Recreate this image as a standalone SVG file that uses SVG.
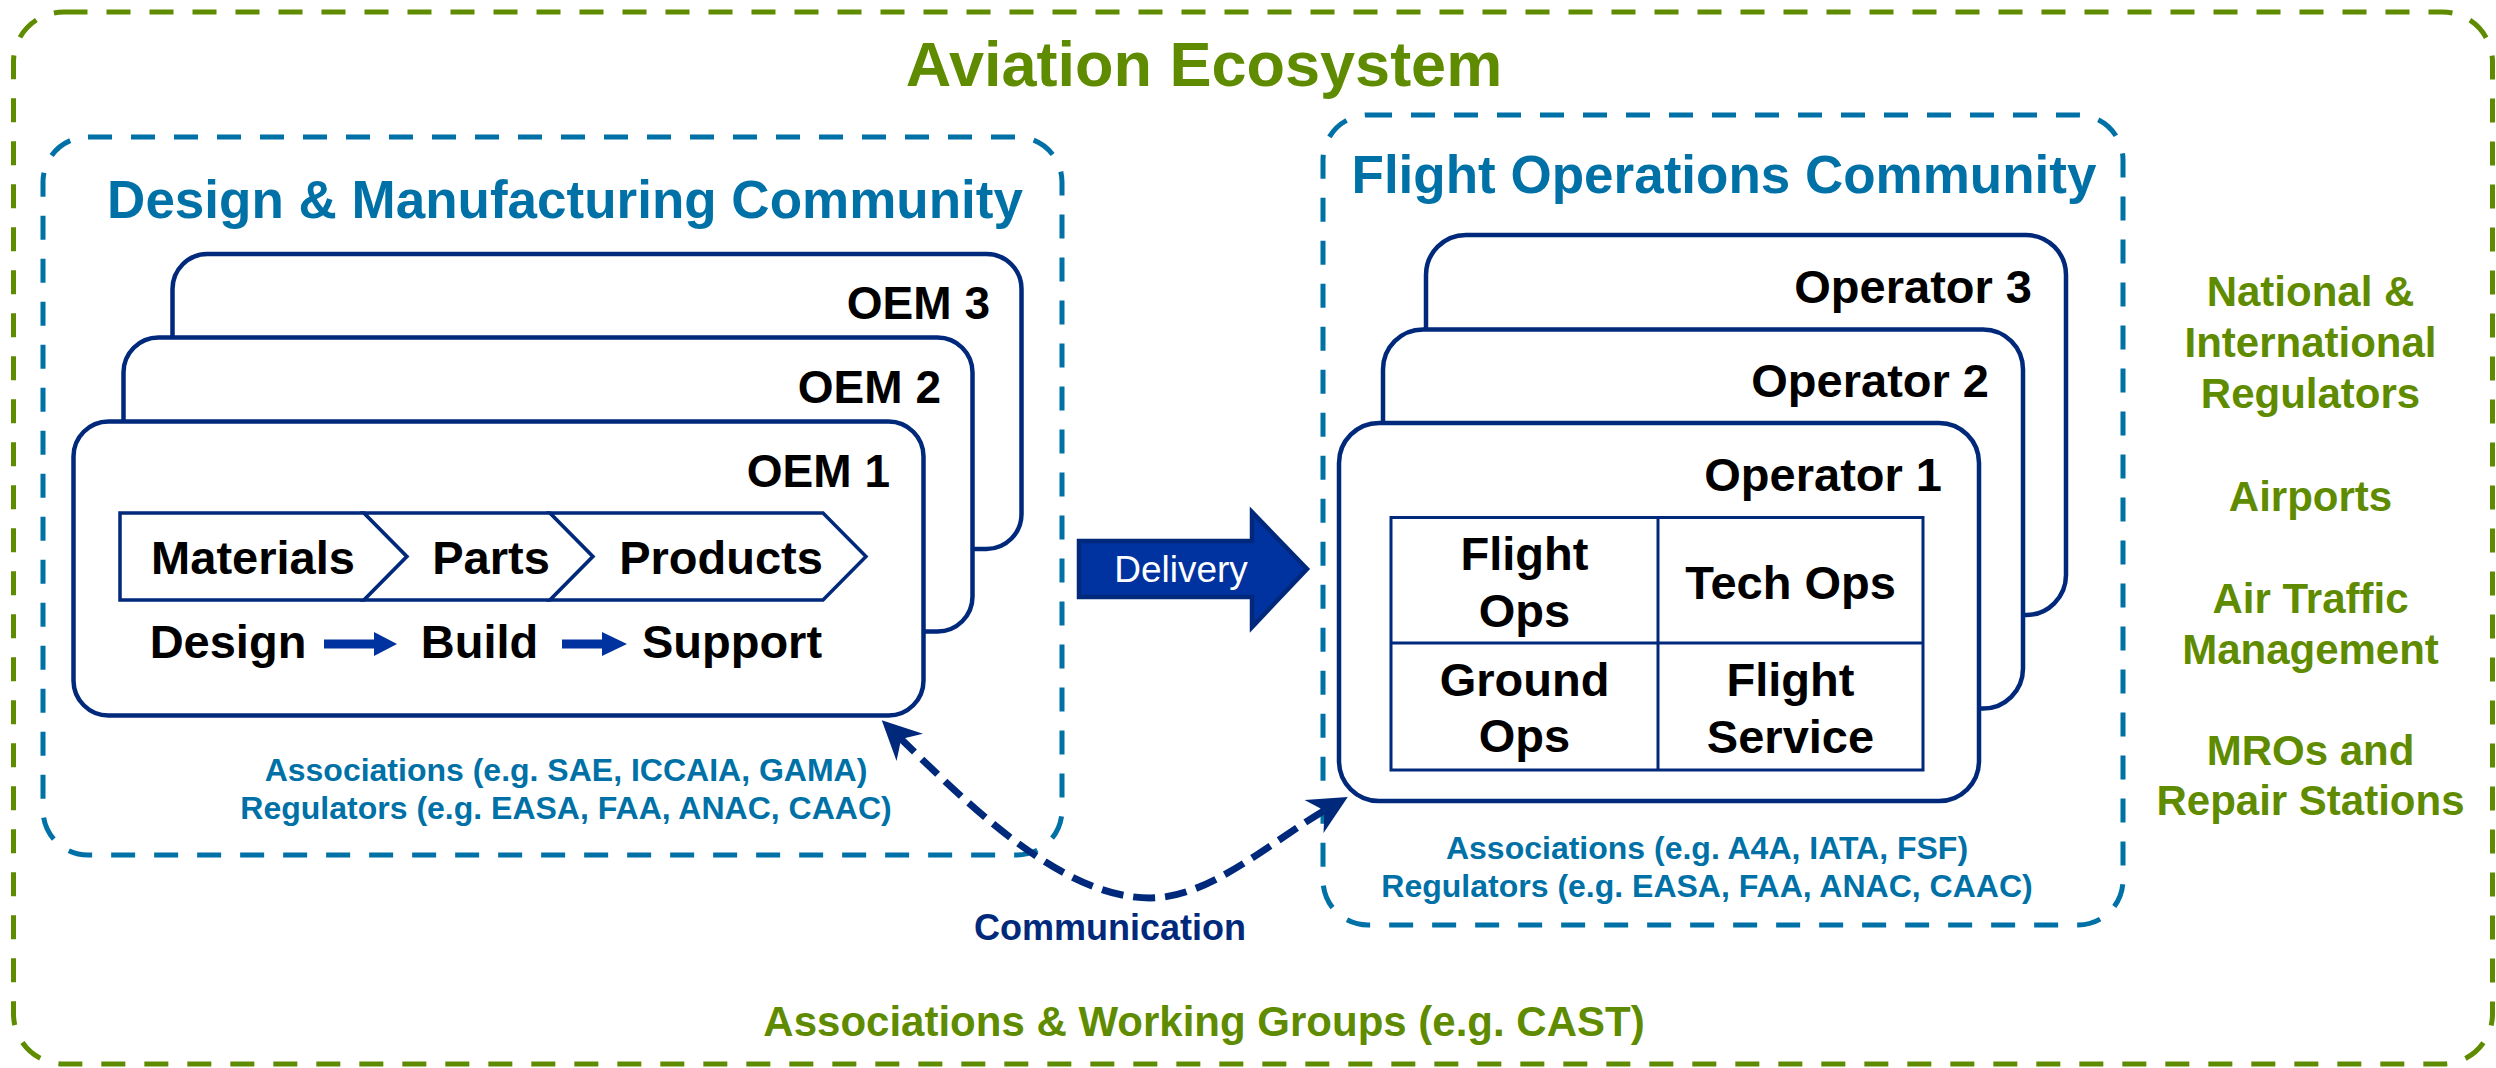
<svg xmlns="http://www.w3.org/2000/svg" width="2496" height="1068" viewBox="0 0 2496 1068">
<defs>
<style>
text{font-family:"Liberation Sans",Arial,Helvetica,sans-serif;font-weight:bold}
.green{fill:#5F8B00}
.blue{fill:#0071A7}
.black{fill:#000}
.navyt{fill:#00297C}
.mid{text-anchor:middle}
.end{text-anchor:end}
.eco{fill:none;stroke:#5F8B00;stroke-width:5;stroke-dasharray:24 19}
.comm{fill:none;stroke:#0071A7;stroke-width:5;stroke-dasharray:24 19}
.card{fill:#fff;stroke:#00297C;stroke-width:4.5}
.chev{fill:#fff;stroke:#00297C;stroke-width:3.5;stroke-linejoin:miter}
.grid{fill:#fff;stroke:#00297C;stroke-width:3}
.blk{fill:#0033A0}
.f47{font-size:47px}
.f42{font-size:42px}
.f32{font-size:32px}
</style>
<marker id="head" viewBox="-40 -20 42 40" markerWidth="42" markerHeight="40" refX="-24" refY="0" orient="auto-start-reverse" markerUnits="userSpaceOnUse">
<path d="M0,0 L-39,-19 L-27,0 L-39,19 Z" fill="#00297C"/>
</marker>
</defs>
<rect width="2496" height="1068" fill="#fff"/>

<g id="aviation-ecosystem">
<rect class="eco" x="13.5" y="12" width="2479" height="1052" rx="50"/>
<text class="green mid" x="1204" y="86" style="font-size:63px">Aviation Ecosystem</text>
<text class="green mid f42" x="1204" y="1036">Associations &amp; Working Groups (e.g. CAST)</text>
</g>

<g id="design-manufacturing-community">
<rect class="comm" x="43" y="137" width="1019" height="718" rx="45"/>
<text class="blue mid" x="565" y="218" style="font-size:53px">Design &amp; Manufacturing Community</text>
<text class="blue mid f32" x="566" y="781">Associations (e.g. SAE, ICCAIA, GAMA)</text>
<text class="blue mid f32" x="566" y="819">Regulators (e.g. EASA, FAA, ANAC, CAAC)</text>
</g>

<g id="oem3">
<rect class="card" x="172.5" y="254" width="849" height="295" rx="35"/>
<text class="black end" x="990" y="319" style="font-size:46px">OEM 3</text>
</g>
<g id="oem2">
<rect class="card" x="123.5" y="337.5" width="849" height="294" rx="35"/>
<text class="black end" x="941" y="403" style="font-size:46px">OEM 2</text>
</g>
<g id="oem1">
<rect class="card" x="73.5" y="421.5" width="850" height="294" rx="35"/>
<text class="black end" x="890" y="487" style="font-size:46px">OEM 1</text>
<path class="chev" d="M120,513 H364 L407,556.5 L364,600 H120 Z"/>
<path class="chev" d="M364,513 H550 L593,556.5 L550,600 H364 L407,556.5 Z"/>
<path class="chev" d="M550,513 H823 L866,556.5 L823,600 H550 L593,556.5 Z"/>
<text class="black mid f47" x="253" y="574">Materials</text>
<text class="black mid f47" x="491" y="574">Parts</text>
<text class="black mid f47" x="721" y="574">Products</text>
<text class="black mid f47" x="228" y="658">Design</text>
<text class="black mid f47" x="479.5" y="658">Build</text>
<text class="black mid f47" x="732" y="658">Support</text>
<polygon class="blk" points="324,639.5 374,639.5 374,632 397,644 374,656 374,648.5 324,648.5"/>
<polygon class="blk" points="562,639.5 602,639.5 602,632 627,644 602,656 602,648.5 562,648.5"/>
</g>

<g id="flight-operations-community">
<rect class="comm" x="1323" y="115" width="800" height="810" rx="45"/>
<text class="blue mid" x="1724" y="193" style="font-size:53px">Flight Operations Community</text>
<text class="blue mid f32" x="1707" y="859">Associations (e.g. A4A, IATA, FSF)</text>
<text class="blue mid f32" x="1707" y="897">Regulators (e.g. EASA, FAA, ANAC, CAAC)</text>
</g>

<g id="operator3">
<rect class="card" x="1426" y="235" width="640" height="380" rx="40"/>
<text class="black end f47" x="2032" y="303">Operator 3</text>
</g>
<g id="operator2">
<rect class="card" x="1383" y="329.5" width="640" height="379" rx="40"/>
<text class="black end f47" x="1989" y="397">Operator 2</text>
</g>
<g id="operator1">
<rect class="card" x="1339" y="423" width="640" height="378" rx="40"/>
<text class="black end f47" x="1942" y="491">Operator 1</text>
<rect class="grid" x="1391" y="517.5" width="532" height="252.5"/>
<line class="grid" x1="1658" y1="517.5" x2="1658" y2="770"/>
<line class="grid" x1="1391" y1="643" x2="1923" y2="643"/>
<text class="black mid f47" x="1524.5" y="569.5">Flight</text>
<text class="black mid f47" x="1524.5" y="626.5">Ops</text>
<text class="black mid f47" x="1790.5" y="599">Tech Ops</text>
<text class="black mid f47" x="1524.5" y="695.5">Ground</text>
<text class="black mid f47" x="1524.5" y="752">Ops</text>
<text class="black mid f47" x="1790.5" y="695.5">Flight</text>
<text class="black mid f47" x="1790.5" y="753">Service</text>
</g>

<g id="other-stakeholders">
<text class="green mid f42" x="2310.5" y="305.5">National &amp;</text>
<text class="green mid f42" x="2310.5" y="357">International</text>
<text class="green mid f42" x="2310.5" y="408">Regulators</text>
<text class="green mid f42" x="2310.5" y="510.5">Airports</text>
<text class="green mid f42" x="2310.5" y="613">Air Traffic</text>
<text class="green mid f42" x="2310.5" y="664">Management</text>
<text class="green mid f42" x="2310.5" y="765">MROs and</text>
<text class="green mid f42" x="2310.5" y="815">Repair Stations</text>
</g>

<g id="connectors">
<g id="delivery">
<polygon points="1079,541 1252,541 1252,512 1307,569 1252,627 1252,597 1079,597" fill="#0033A0" stroke="#00297C" stroke-width="4.5" stroke-linejoin="miter"/>
<text x="1181" y="582" text-anchor="middle" style="font-size:37px;font-weight:normal;fill:#fff">Delivery</text>
</g>
<g id="communication">
<path d="M899,737 C964,800 1060,898 1150,898 C1210,898 1270,842 1327,809" fill="none" stroke="#00297C" stroke-width="7" stroke-dasharray="22 10" marker-start="url(#head)" marker-end="url(#head)"/>
<text class="navyt mid" x="1110" y="940" style="font-size:36px">Communication</text>
</g>
</g>
</svg>
